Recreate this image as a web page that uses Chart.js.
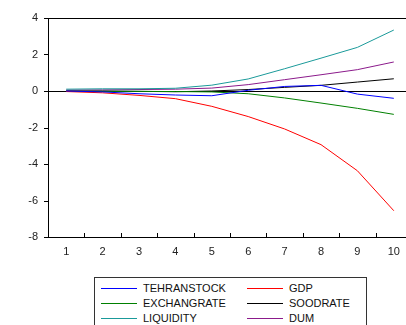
<!DOCTYPE html>
<html>
<head>
<meta charset="utf-8">
<script src="https://cdn.jsdelivr.net/npm/chart.js@4"></script>
<style>
  html, body { margin: 0; padding: 0; background: #fff; overflow: hidden; }
  #wrap { position: relative; width: 406px; height: 325px; overflow: hidden; }
  #chartBox { position: absolute; left: 0; top: 0; width: 420px; height: 262px; }
  #frame { position: absolute; left: 0; top: 0; width: 420px; height: 262px; pointer-events: none; }
  #frame div { position: absolute; background: #000; }
  #legend {
    position: absolute; left: 94px; top: 277px; width: 273px; height: 54px;
    border: 1px solid #333; box-sizing: border-box;
    font-family: "Liberation Sans", Arial, sans-serif; font-size: 11px; color: #111;
  }
  .item { position: absolute; height: 14px; line-height: 14px; white-space: nowrap; }
  .item span.ln { position: absolute; left: 0; top: 7px; width: 36px; height: 0; border-top: 1px solid; }
  .item span.tx { position: absolute; left: 42px; top: 0; }
</style>
</head>
<body>
<div id="wrap">
  <div id="chartBox"><canvas id="irfChart" width="420" height="262"></canvas></div>
  <div id="frame"></div>
  <div id="legend"></div>
</div>
<script>
const periods = ['1', '2', '3', '4', '5', '6', '7', '8', '9', '10'];
const seriesNames = ['TEHRANSTOCK', 'GDP', 'EXCHANGRATE', 'SOODRATE', 'LIQUIDITY', 'DUM'];
const seriesColors = ['#0000ff', '#ff0000', '#008000', '#000000', '#1a9a9a', '#8b1a8b'];

const tehranstock = [0.0, -0.05, -0.15, -0.22, -0.26, 0.04, 0.25, 0.31, -0.17, -0.40];
const gdp = [-0.03, -0.10, -0.24, -0.42, -0.84, -1.40, -2.08, -2.94, -4.37, -6.56];
const exchangrate = [-0.02, -0.02, -0.02, -0.03, -0.05, -0.15, -0.38, -0.66, -0.95, -1.28];
const soodrate = [0.0, 0.0, -0.02, -0.04, 0.0, 0.08, 0.20, 0.31, 0.49, 0.67];
const liquidity = [0.10, 0.12, 0.12, 0.15, 0.32, 0.66, 1.22, 1.80, 2.39, 3.34];
const dum = [0.05, 0.06, 0.08, 0.10, 0.16, 0.35, 0.62, 0.89, 1.17, 1.59];

const yTicks = [-8, -6, -4, -2, 0, 2, 4];

const allSeries = [tehranstock, gdp, exchangrate, soodrate, liquidity, dum];

const irfChart = new Chart(document.getElementById('irfChart'), {
  type: 'line',
  data: {
    labels: periods,
    datasets: allSeries.map((vals, i) => ({
      label: seriesNames[i],
      data: vals,
      borderColor: seriesColors[i],
      borderWidth: 1,
      pointRadius: 0,
      tension: 0,
      fill: false
    }))
  },
  options: {
    responsive: false,
    animation: false,
    layout: { padding: { left: 0, top: 18, right: 8, bottom: 0 } },
    plugins: { legend: { display: false }, tooltip: { enabled: false } },
    scales: {
      x: {
        offset: true,
        grid: { display: false, drawTicks: false },
        border: { display: false },
        ticks: {
          color: '#222',
          padding: 8,
          maxRotation: 0,
          font: { family: 'Liberation Sans', size: 11 }
        },
        afterFit(scale) { scale.height = 25; }
      },
      y: {
        min: -8,
        max: 4,
        afterBuildTicks(scale) { scale.ticks = yTicks.map(v => ({ value: v })); },
        grid: {
          color: (c) => (c.tick && c.tick.value === 0 ? '#000' : 'rgba(0,0,0,0)'),
          drawTicks: false,
          lineWidth: 1
        },
        border: { display: false },
        ticks: {
          color: '#222',
          padding: 10,
          font: { family: 'Liberation Sans', size: 11 }
        },
        afterFit(scale) { scale.width = 48; }
      }
    }
  }
});

// frame as plain elements placed from the chart's area and scales:
// top/left/bottom lines, outward y ticks, inward x ticks at category edges
function addBar(parent, left, top, width, height) {
  const d = document.createElement('div');
  d.style.left = left + 'px';
  d.style.top = top + 'px';
  d.style.width = width + 'px';
  d.style.height = height + 'px';
  parent.appendChild(d);
}

function buildFrame(chart) {
  const frame = document.getElementById('frame');
  const area = chart.chartArea;
  const x = chart.scales.x;
  const y = chart.scales.y;
  const L = Math.round(area.left), T = Math.round(area.top);
  const R = Math.round(area.right), B = Math.round(area.bottom);
  addBar(frame, L, T, R - L, 1);
  addBar(frame, L, T, 1, B - T + 1);
  addBar(frame, L, B, R - L, 1);
  yTicks.forEach(v => {
    addBar(frame, L - 4, Math.round(y.getPixelForValue(v)), 4, 1);
  });
  const n = periods.length;
  for (let i = 1; i <= n; i++) {
    addBar(frame, Math.round(x.left + i * (x.width / n)), B - 4, 1, 4);
  }
}
buildFrame(irfChart);

function buildLegend() {
  const legend = document.getElementById('legend');
  const colX = [6, 152];
  const rowY = [3, 18, 33];
  seriesNames.forEach((name, i) => {
    const item = document.createElement('div');
    item.className = 'item';
    item.style.left = colX[i % 2] + 'px';
    item.style.top = rowY[Math.floor(i / 2)] + 'px';
    const ln = document.createElement('span');
    ln.className = 'ln';
    ln.style.borderTopColor = seriesColors[i];
    const tx = document.createElement('span');
    tx.className = 'tx';
    tx.textContent = name;
    item.appendChild(ln);
    item.appendChild(tx);
    legend.appendChild(item);
  });
}
buildLegend();
</script>
</body>
</html>
